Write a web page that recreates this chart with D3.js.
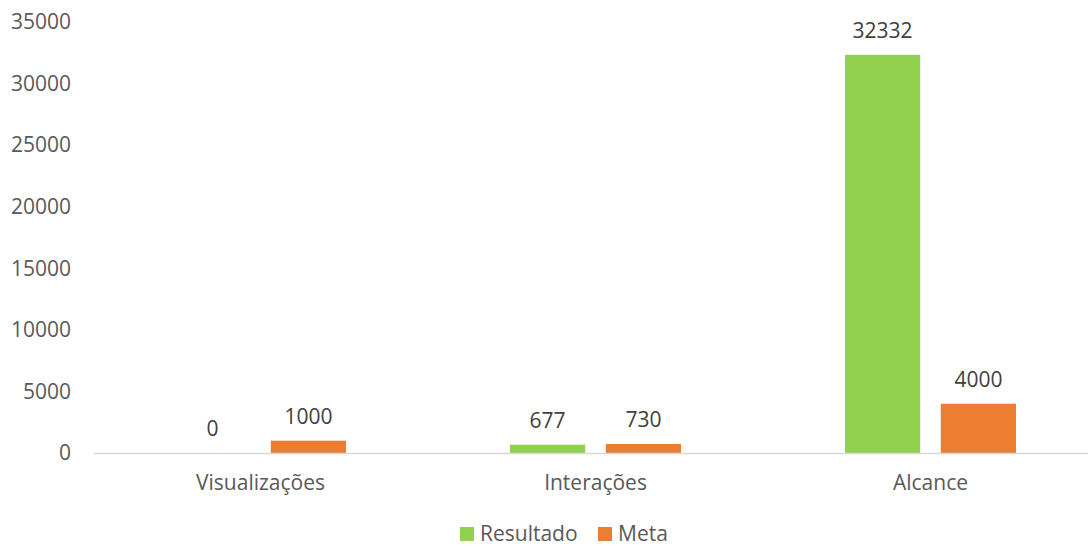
<!DOCTYPE html>
<html>
<head>
<meta charset="utf-8">
<script src="https://cdn.jsdelivr.net/npm/d3@7"></script>
<style>
body { margin: 0; background: #fff; }
text { font-family: "Open Sans", sans-serif; }
.tick text { fill: #595959; font-size: 21px; }
.dataLabel { fill: #404040; font-size: 21px; }
.legendLabel { fill: #595959; font-size: 21px; }
</style>
</head>
<body>
<div id="chart"></div>
<script>
var categories = ["Visualizações", "Interações", "Alcance"];
var seriesNames = ["Resultado", "Meta"];
var resultado = [0, 677, 32332];
var meta = [1000, 730, 4000];
var yTicks = [0, 5000, 10000, 15000, 20000, 25000, 30000, 35000];

var seriesColor = d3.scaleOrdinal()
	.domain(seriesNames)
	.range(["#92D050", "#ED7D31"]);

var width = 1088, height = 547;
var margin = {left: 93, right: -10, top: 22, bottom: 94};

var svg = d3.select("#chart")
	.append("svg")
	.attr("width", width)
	.attr("height", height);

var x0 = d3.scaleBand()
	.domain(categories)
	.range([margin.left, width - margin.right]);

var x1 = d3.scaleBand()
	.domain(seriesNames)
	.range([82, x0.bandwidth() - 82])
	.paddingInner(0.215);

var y = d3.scaleLinear()
	.domain([0, 35000])
	.range([height - margin.bottom, margin.top]);

// y axis labels only, no line
var yAxis = svg.append("g")
	.attr("transform", "translate(" + 71 + ",0)")
	.call(d3.axisLeft(y).tickValues(yTicks).tickSize(0).tickPadding(0).tickFormat(d3.format("d")));
yAxis.select(".domain").remove();

var rows = categories.map(function(c, i) {
	return {cat: c, values: [{s: "Resultado", v: resultado[i]}, {s: "Meta", v: meta[i]}]};
});

var groups = svg.selectAll(".cat")
	.data(rows)
	.enter()
	.append("g")
	.attr("class", "cat")
	.attr("transform", function(d) { return "translate(" + x0(d.cat) + ",0)"; });

groups.selectAll("rect")
	.data(function(d) { return d.values; })
	.enter()
	.append("rect")
	.attr("x", function(d) { return x1(d.s); })
	.attr("y", function(d) { return y(d.v); })
	.attr("width", x1.bandwidth())
	.attr("height", function(d) { return y(0) - y(d.v); })
	.style("fill", function(d) { return seriesColor(d.s); });

groups.selectAll(".dataLabel")
	.data(function(d) { return d.values; })
	.enter()
	.append("text")
	.attr("class", "dataLabel")
	.attr("x", function(d) { return x1(d.s) + x1.bandwidth() / 2; })
	.attr("y", function(d) { return y(d.v) - 17; })
	.attr("text-anchor", "middle")
	.text(function(d) { return d.v; });

// category axis
var xAxis = svg.append("g")
	.attr("transform", "translate(0," + y(0) + ")")
	.call(d3.axisBottom(x0).tickSize(0).tickPadding(22));
xAxis.select(".domain")
	.attr("stroke", "#D9D9D9")
	.attr("stroke-width", 1.5);

// legend
var legendX = [460, 598];
var legend = svg.selectAll(".legend")
	.data(seriesNames)
	.enter()
	.append("g")
	.attr("class", "legend")
	.attr("transform", function(d, i) { return "translate(" + legendX[i] + ",527)"; });

legend.append("rect")
	.attr("width", 14)
	.attr("height", 14)
	.style("fill", function(d) { return seriesColor(d); });

legend.append("text")
	.attr("class", "legendLabel")
	.attr("x", 20)
	.attr("y", 14)
	.text(function(d) { return d; });
</script>
</body>
</html>
